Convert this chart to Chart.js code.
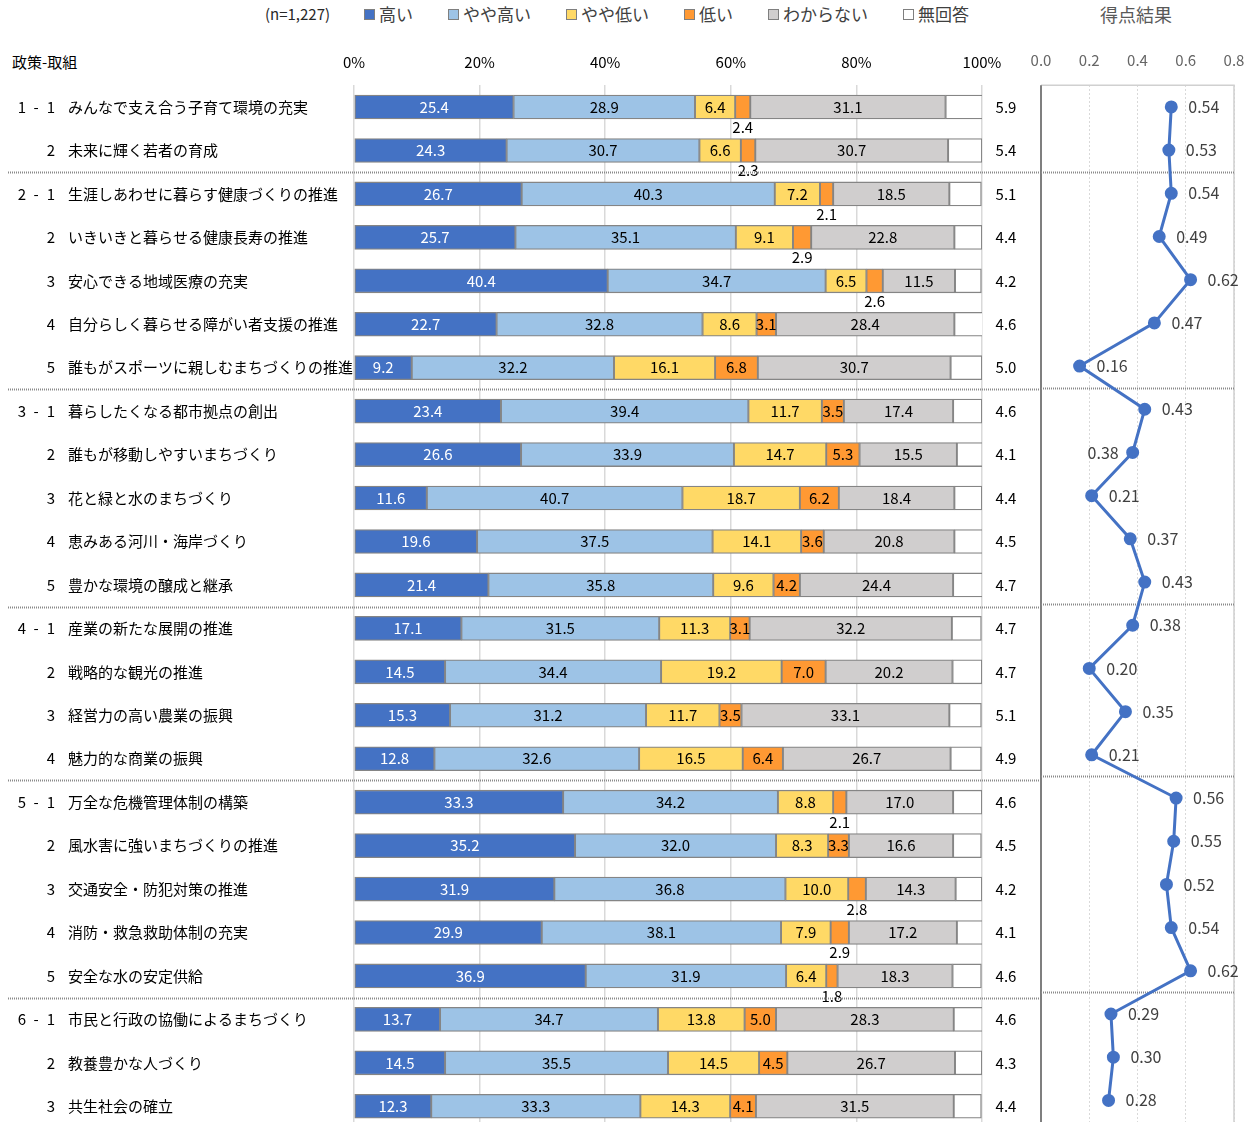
<!DOCTYPE html>
<html lang="ja">
<head>
<meta charset="UTF-8">
<title>政策・取組の評価</title>
<style>
  html, body { margin: 0; padding: 0; background: #fff; overflow: hidden; }
  body { width: 1255px; height: 1122px; position: relative; font-family: "Noto Sans CJK JP", sans-serif; }
  #barChart { position: absolute; left: 0; top: 0; }
  #scoreChart { position: absolute; left: 1000px; top: 0; }
  .head { position: absolute; white-space: nowrap; }
  #nLabel { left: 265px; top: 4px; font-size: 15px; line-height: 20px; color: #262626; }
  #policyHead { left: 12px; top: 52px; font-size: 15px; line-height: 20px; color: #000; }
  #scoreTitle { left: 1100px; top: 3px; font-size: 18px; line-height: 22px; color: #595959; }
  #legend { position: absolute; left: 364px; top: 4px; display: flex; gap: 35px; font-size: 17px; line-height: 20px; color: #404040; }
  #legend .item { display: flex; align-items: center; white-space: nowrap; }
  #legend .box { width: 9px; height: 9px; border: 1px solid #7f7f7f; margin-right: 4px; }
</style>
</head>
<body>
<div class="head" id="nLabel">(n=1,227)</div>
<div id="legend"></div>
<div class="head" id="scoreTitle">得点結果</div>
<div class="head" id="policyHead">政策-取組</div>
<canvas id="barChart" width="1040" height="1130"></canvas>
<canvas id="scoreChart" width="255" height="1130"></canvas>

<script src="https://cdn.jsdelivr.net/npm/chart.js"></script>
<script>
  // 政策番号・取組番号・取組名
  const groupNo = [1,1, 2,2,2,2,2, 3,3,3,3,3, 4,4,4,4, 5,5,5,5,5, 6,6,6];
  const subNo   = [1,2, 1,2,3,4,5, 1,2,3,4,5, 1,2,3,4, 1,2,3,4,5, 1,2,3];
  const itemNames = [
    'みんなで支え合う子育て環境の充実', '未来に輝く若者の育成',
    '生涯しあわせに暮らす健康づくりの推進', 'いきいきと暮らせる健康長寿の推進', '安心できる地域医療の充実',
    '自分らしく暮らせる障がい者支援の推進', '誰もがスポーツに親しむまちづくりの推進',
    '暮らしたくなる都市拠点の創出', '誰もが移動しやすいまちづくり', '花と緑と水のまちづくり',
    '恵みある河川・海岸づくり', '豊かな環境の醸成と継承',
    '産業の新たな展開の推進', '戦略的な観光の推進', '経営力の高い農業の振興', '魅力的な商業の振興',
    '万全な危機管理体制の構築', '風水害に強いまちづくりの推進', '交通安全・防犯対策の推進',
    '消防・救急救助体制の充実', '安全な水の安定供給',
    '市民と行政の協働によるまちづくり', '教養豊かな人づくり', '共生社会の確立'
  ];

  const seriesNames = ['高い', 'やや高い', 'やや低い', '低い', 'わからない', '無回答'];
  const seriesColors = ['#4472C4', '#9DC3E6', '#FFD966', '#FF9933', '#D0CECE', '#FFFFFF'];

  const high       = [25.4,24.3, 26.7,25.7,40.4,22.7,9.2, 23.4,26.6,11.6,19.6,21.4, 17.1,14.5,15.3,12.8, 33.3,35.2,31.9,29.9,36.9, 13.7,14.5,12.3];
  const ratherHigh = [28.9,30.7, 40.3,35.1,34.7,32.8,32.2, 39.4,33.9,40.7,37.5,35.8, 31.5,34.4,31.2,32.6, 34.2,32.0,36.8,38.1,31.9, 34.7,35.5,33.3];
  const ratherLow  = [6.4,6.6, 7.2,9.1,6.5,8.6,16.1, 11.7,14.7,18.7,14.1,9.6, 11.3,19.2,11.7,16.5, 8.8,8.3,10.0,7.9,6.4, 13.8,14.5,14.3];
  const low        = [2.4,2.3, 2.1,2.9,2.6,3.1,6.8, 3.5,5.3,6.2,3.6,4.2, 3.1,7.0,3.5,6.4, 2.1,3.3,2.8,2.9,1.8, 5.0,4.5,4.1];
  const unknown    = [31.1,30.7, 18.5,22.8,11.5,28.4,30.7, 17.4,15.5,18.4,20.8,24.4, 32.2,20.2,33.1,26.7, 17.0,16.6,14.3,17.2,18.3, 28.3,26.7,31.5];
  const noAnswer   = [5.9,5.4, 5.1,4.4,4.2,4.6,5.0, 4.6,4.1,4.4,4.5,4.7, 4.7,4.7,5.1,4.9, 4.6,4.5,4.2,4.1,4.6, 4.6,4.3,4.4];

  const scores = [0.54,0.53, 0.54,0.49,0.62,0.47,0.16, 0.43,0.38,0.21,0.37,0.43, 0.38,0.20,0.35,0.21, 0.56,0.55,0.52,0.54,0.62, 0.29,0.30,0.28];

  const FONT = '"Noto Sans CJK JP", sans-serif';
  Chart.defaults.font.family = FONT;

  // 凡例（HTML）
  const legendEl = document.getElementById('legend');
  seriesNames.forEach((name, k) => {
    const item = document.createElement('div');
    item.className = 'item';
    item.innerHTML = '<span class="box" style="background:' + seriesColors[k] + '"></span>' + name;
    legendEl.appendChild(item);
  });

  function separatorRows() {
    const rows = [];
    for (let i = 1; i < groupNo.length; i++) if (groupNo[i] !== groupNo[i - 1]) rows.push(i);
    return rows;
  }

  function drawSeparators(chart, x0, x1) {
    const ctx = chart.ctx, y = chart.scales.y;
    ctx.save();
    ctx.strokeStyle = '#8a8a8a';
    ctx.lineWidth = 2;
    ctx.setLineDash([1, 1]);
    separatorRows().forEach(i => {
      const py = Math.round((y.getPixelForValue(i - 1) + y.getPixelForValue(i)) / 2) + 0.5;
      ctx.beginPath(); ctx.moveTo(x0, py); ctx.lineTo(x1, py); ctx.stroke();
    });
    ctx.restore();
  }

  const barLabels = {
    id: 'barLabels',
    afterDatasetsDraw(chart) {
      const ctx = chart.ctx;
      ctx.save();
      ctx.font = '15px ' + FONT;
      ctx.textAlign = 'center';
      ctx.textBaseline = 'middle';
      chart.data.datasets.forEach((ds, k) => {
        chart.getDatasetMeta(k).data.forEach((bar, i) => {
          const v = ds.data[i];
          if (k === 5) {
            ctx.fillStyle = '#000';
            ctx.fillText(v.toFixed(1), chart.chartArea.right + 24, bar.y);
            return;
          }
          const cx = (bar.x + bar.base) / 2;
          if (v < 3) {
            ctx.fillStyle = '#000';
            ctx.fillText(v.toFixed(1), cx, bar.y + 20);
          } else {
            ctx.fillStyle = k === 0 ? '#fff' : '#000';
            ctx.fillText(v.toFixed(1), cx, bar.y);
          }
        });
      });
      ctx.restore();
    },
    afterDraw(chart) {
      const ctx = chart.ctx, y = chart.scales.y;
      ctx.save();
      ctx.font = '15px ' + FONT;
      ctx.fillStyle = '#000';
      ctx.textBaseline = 'middle';
      itemNames.forEach((name, i) => {
        const py = y.getPixelForValue(i);
        if (subNo[i] === 1) {
          ctx.textAlign = 'right';
          ctx.fillText(String(groupNo[i]), 26, py);
          ctx.textAlign = 'center';
          ctx.fillText('-', 36, py);
        }
        ctx.textAlign = 'right';
        ctx.fillText(String(subNo[i]), 55, py);
        ctx.textAlign = 'left';
        ctx.fillText(name, 68, py);
      });
      ctx.restore();
      drawSeparators(chart, 8, chart.width);
    }
  };

  const seriesData = [high, ratherHigh, ratherLow, low, unknown, noAnswer];

  new Chart(document.getElementById('barChart'), {
    type: 'bar',
    data: {
      labels: itemNames,
      datasets: seriesNames.map((name, k) => ({
        label: name,
        data: seriesData[k],
        backgroundColor: seriesColors[k],
        borderColor: '#858585',
        borderWidth: 1.3,
        borderSkipped: false,
        barThickness: 24
      }))
    },
    options: {
      indexAxis: 'y',
      responsive: false,
      animation: false,
      devicePixelRatio: 1,
      layout: { padding: { left: 354, right: 58, top: 0, bottom: 2 } },
      scales: {
        x: {
          stacked: true, position: 'top', min: 0, max: 100,
          ticks: { stepSize: 20, callback: v => v + '%', padding: 0, color: '#000', font: { size: 15 } },
          grid: { color: '#d9d9d9', lineWidth: 1.5, drawTicks: true, tickLength: 14, tickColor: 'rgba(0,0,0,0)' },
          border: { display: false },
          afterFit: s => { s.height = 85.3; }
        },
        y: { stacked: true, display: false }
      },
      plugins: { legend: { display: false }, tooltip: { enabled: false } }
    },
    plugins: [barLabels]
  });

  const scoreLabels = {
    id: 'scoreLabels',
    beforeDatasetsDraw(chart) {
      const ctx = chart.ctx, a = chart.chartArea;
      ctx.save();
      ctx.strokeStyle = '#d0d0d0';
      ctx.lineWidth = 1.5;
      ctx.beginPath();
      ctx.moveTo(a.left, a.top); ctx.lineTo(a.right, a.top); ctx.lineTo(a.right, chart.height);
      ctx.stroke();
      ctx.strokeStyle = '#7f7f7f';
      ctx.lineWidth = 2;
      ctx.beginPath(); ctx.moveTo(a.left, a.top); ctx.lineTo(a.left, chart.height); ctx.stroke();
      ctx.restore();
      drawSeparators(chart, a.left, a.right);
    },
    afterDatasetsDraw(chart) {
      const ctx = chart.ctx;
      ctx.save();
      ctx.font = '16px ' + FONT;
      ctx.fillStyle = '#404040';
      ctx.textBaseline = 'middle';
      chart.getDatasetMeta(0).data.forEach((pt, i) => {
        const txt = scores[i].toFixed(2);
        if (i === 8) { ctx.textAlign = 'right'; ctx.fillText(txt, pt.x - 14, pt.y); }
        else { ctx.textAlign = 'left'; ctx.fillText(txt, pt.x + 17, pt.y); }
      });
      ctx.restore();
    }
  };

  new Chart(document.getElementById('scoreChart'), {
    type: 'line',
    data: {
      labels: itemNames,
      datasets: [{
        data: scores,
        borderColor: '#4472C4',
        backgroundColor: '#4472C4',
        borderWidth: 3,
        pointRadius: 5,
        pointHoverRadius: 5,
        clip: false
      }]
    },
    options: {
      indexAxis: 'y',
      responsive: false,
      animation: false,
      devicePixelRatio: 1,
      layout: { padding: { left: 41, right: 21, top: 0, bottom: 2 } },
      scales: {
        x: {
          position: 'top', min: 0, max: 0.8,
          ticks: { stepSize: 0.2, callback: v => v.toFixed(1), padding: 0, color: '#666', font: { size: 15 } },
          grid: { color: '#d9d9d9', lineWidth: 1, drawTicks: true, tickLength: 16, tickColor: 'rgba(0,0,0,0)' },
          border: { display: false, dash: [2, 2] },
          afterFit: s => { s.height = 85.3; }
        },
        y: { display: false, offset: true }
      },
      plugins: { legend: { display: false }, tooltip: { enabled: false } }
    },
    plugins: [scoreLabels]
  });
</script>
</body>
</html>
